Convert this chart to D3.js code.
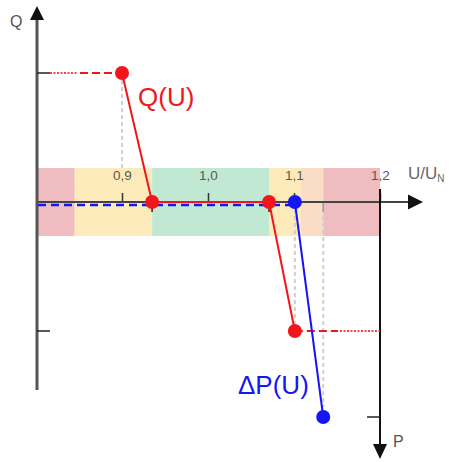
<!DOCTYPE html>
<html><head><meta charset="utf-8">
<script src="https://cdn.jsdelivr.net/npm/d3@7/dist/d3.min.js"></script>
<style>body{margin:0;background:#fff}svg{display:block;font-family:"Liberation Sans",Arial,sans-serif}</style>
</head><body><svg id="c" width="449" height="462"></svg>
<script>
// ---- data ----
const uTicks = [0.9, 1.0, 1.1, 1.2];
const tickLabels = ["0,9", "1,0", "1,1", "1,2"];
const bandEdges = [0.80, 0.845, 0.935, 1.071, 1.108, 1.134, 1.2];
const bandColors = ["#efbcbf", "#fdeabb", "#c0e8d2", "#fdeabb", "#fbdcc4", "#efbcbf"];
const qU = [0.9, 0.935, 1.071, 1.101];
const qVal = [1, 0, 0, -1];
const pU = [1.101, 1.134];
const pVal = [0, 1];
const breakTicks = [0.935, 1.071, 1.134];

const svg = d3.select("#c");
const x = d3.scaleLinear().domain([0.8, 1.2]).range([36, 380]);
const q = d3.scaleLinear().domain([-1, 1]).range([331, 73]);
const p = d3.scaleLinear().domain([0, 1]).range([202, 417]);
const y0 = q(0);
const red = "#f2161b", blue = "#1515f5";

// bands
svg.append("g").selectAll("rect").data(bandColors).join("rect")
  .attr("x", (d, i) => x(bandEdges[i])).attr("width", (d, i) => x(bandEdges[i + 1]) - x(bandEdges[i]))
  .attr("y", y0 - 34).attr("height", 68).attr("fill", d => d);

// gray guide dashes
const guides = [
  [qU[0], q(qVal[0]), y0 - 34],
  [qU[3], y0, q(qVal[3])],
  [pU[1], y0, p(pVal[1]) - 10]
];
svg.append("g").selectAll("line").data(guides).join("line")
  .attr("x1", d => x(d[0])).attr("x2", d => x(d[0])).attr("y1", d => d[1]).attr("y2", d => d[2])
  .attr("stroke", "#cfcfcf").attr("stroke-width", 2).attr("stroke-dasharray", "4,3");

// x axis ticks & labels
const ax = d3.axisTop(x).tickValues(uTicks).tickSize(9).tickPadding(13)
  .tickFormat((d, i) => tickLabels[i]);
const axg = svg.append("g").attr("transform", `translate(0,${y0})`).call(ax);
axg.select(".domain").remove();
axg.selectAll(".tick line").attr("stroke", "#333").attr("stroke-width", 1.5);
axg.selectAll(".tick text").attr("fill", "#5a5a4e").attr("font-size", 13.5).attr("font-family", "Liberation Sans, Arial");
// break ticks (downward)
svg.append("g").selectAll("line").data(breakTicks).join("line")
  .attr("x1", d => x(d)).attr("x2", d => x(d)).attr("y1", y0).attr("y2", y0 + 10)
  .attr("stroke", (d, i) => i === 2 ? "#999" : "#222").attr("stroke-width", 1.5);

// horizontal axis
svg.append("line").attr("x1", x(0.8)).attr("x2", 410).attr("y1", y0).attr("y2", y0)
  .attr("stroke", "#444").attr("stroke-width", 2);
svg.append("path").attr("d", `M408,${y0 - 7.5}L423,${y0}L408,${y0 + 7.5}Z`).attr("fill", "#111");

// Q axis
svg.append("line").attr("x1", 37).attr("x2", 37).attr("y1", 16).attr("y2", 390)
  .attr("stroke", "#555").attr("stroke-width", 3);
svg.append("path").attr("d", "M30,20L37,6L44,20Z").attr("fill", "#111");
svg.append("g").selectAll("line").data([1, -1]).join("line")
  .attr("x1", 37).attr("x2", 50).attr("y1", d => q(d)).attr("y2", d => q(d))
  .attr("stroke", "#222").attr("stroke-width", 1.5);

// P axis
const xp = x(1.2);
svg.append("line").attr("x1", xp).attr("x2", xp).attr("y1", 189).attr("y2", 447)
  .attr("stroke", "#111").attr("stroke-width", 2);
svg.append("path").attr("d", `M${xp - 7},444L${xp},459L${xp + 7},444Z`).attr("fill", "#111");
svg.append("line").attr("x1", xp - 13).attr("x2", xp).attr("y1", p(1)).attr("y2", p(1))
  .attr("stroke", "#222").attr("stroke-width", 1.5);

// red dashed horizontal extensions
svg.append("line").attr("x1", 50).attr("x2", 78).attr("y1", q(1)).attr("y2", q(1))
  .attr("stroke", red).attr("stroke-width", 2).attr("stroke-dasharray", "2,1.5").attr("opacity", 0.8);
svg.append("line").attr("x1", 80).attr("x2", x(qU[0])).attr("y1", q(1)).attr("y2", q(1))
  .attr("stroke", red).attr("stroke-width", 2).attr("stroke-dasharray", "8,4");
svg.append("line").attr("x1", x(qU[3])).attr("x2", 338).attr("y1", q(-1)).attr("y2", q(-1))
  .attr("stroke", red).attr("stroke-width", 2).attr("stroke-dasharray", "8,4");
svg.append("line").attr("x1", 340).attr("x2", xp).attr("y1", q(-1)).attr("y2", q(-1))
  .attr("stroke", red).attr("stroke-width", 2).attr("stroke-dasharray", "2,1.5").attr("opacity", 0.8);

// blue dashed along axis
svg.append("line").attr("x1", 38).attr("x2", x(pU[0])).attr("y1", y0 + 3).attr("y2", y0 + 3)
  .attr("stroke", blue).attr("stroke-width", 2.5).attr("stroke-dasharray", "8,5");

// Q(U) line
const qLine = d3.line().x(d => x(d[0])).y(d => q(d[1]));
const qPts = qU.map((u, i) => [u, qVal[i]]);
svg.append("path").attr("d", qLine(qPts)).attr("fill", "none").attr("stroke", red).attr("stroke-width", 2);

// ΔP(U) line
const pLine = d3.line().x(d => x(d[0])).y(d => p(d[1]));
const pPts = pU.map((u, i) => [u, pVal[i]]);
svg.append("path").attr("d", pLine(pPts)).attr("fill", "none").attr("stroke", blue).attr("stroke-width", 2);

// points
svg.append("g").selectAll("circle").data(qPts).join("circle")
  .attr("cx", d => x(d[0])).attr("cy", d => q(d[1])).attr("r", 7).attr("fill", red);
svg.append("g").selectAll("circle").data(pPts).join("circle")
  .attr("cx", d => x(d[0])).attr("cy", d => p(d[1])).attr("r", 7).attr("fill", blue);

// labels
svg.append("text").attr("x", 10).attr("y", 27).attr("font-size", 16).attr("fill", "#555").text("Q");
svg.append("text").attr("x", 393).attr("y", 447).attr("font-size", 16).attr("fill", "#555").text("P");
const ut = svg.append("text").attr("x", 408).attr("y", 179).attr("font-size", 17).attr("fill", "#666");
ut.append("tspan").text("U/U");
ut.append("tspan").attr("font-size", 10).attr("dy", 3).text("N");
svg.append("text").attr("x", 138).attr("y", 106).attr("font-size", 26).attr("fill", red).text("Q(U)");
svg.append("text").attr("x", 238).attr("y", 394).attr("font-size", 26).attr("fill", blue).text("ΔP(U)");
</script></body></html>
